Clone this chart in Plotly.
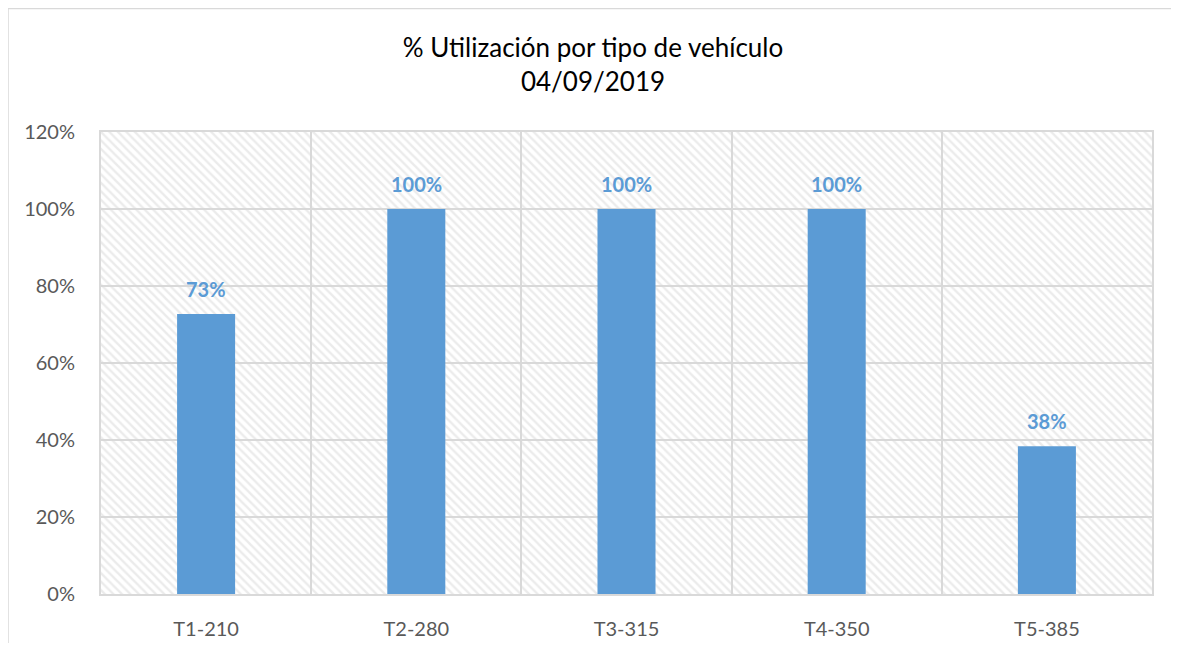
import plotly.graph_objects as go

categories = ["T1-210", "T2-280", "T3-315", "T4-350", "T5-385"]
utilization = [0.727, 1.0, 1.0, 1.0, 0.384]
y_max = 1.2
y_ticks = [0, 0.2, 0.4, 0.6, 0.8, 1.0, 1.2]

# page body has an 8px offset; figure occupies page pixels 8..1171 x 8..643
OFF = 8
W, H = 1179 - 2 * OFF, 651 - 2 * OFF
L, T = 101 - OFF, 132 - OFF
R = W - (1152 - OFF)
B = H - (594 - OFF)
pw, ph = W - L - R, H - T - B

FONT = "Lato, Open Sans, sans-serif"

fig = go.Figure()
# hatched plot-area background (transparent between stripes so gridlines show)
fig.add_trace(go.Bar(
    x=categories, y=[y_max] * len(categories), width=1,
    marker=dict(color="rgba(0,0,0,0)", line=dict(width=0),
                pattern=dict(shape="\\", fgcolor="#d8d8d8", bgcolor="rgba(0,0,0,0)",
                             size=6, solidity=0.4)),
    hoverinfo="skip", showlegend=False))
fig.add_trace(go.Bar(
    x=categories, y=utilization, width=0.276,
    marker=dict(color="#5B9BD5", line=dict(width=0)),
    showlegend=False))

for c, v in zip(categories, utilization):
    fig.add_annotation(x=c, y=v, text=f"<b>{round(v*100)}%</b>", showarrow=False,
                       yanchor="bottom", yshift=11,
                       font=dict(family=FONT, size=20, color="#5B9BD5"))

# outer chart border (top and left visible)
fig.add_shape(type="rect", xref="paper", yref="paper",
              x0=(0 - L) / pw, x1=(W + 20 - L) / pw,
              y0=-(B + 20) / ph, y1=(H - 0.5 - B) / ph,
              line=dict(color="#d9d9d9", width=1.5), layer="below")

fig.update_layout(
    width=W, height=H,
    margin=dict(l=L, r=R, t=T, b=B, autoexpand=False),
    paper_bgcolor="white", plot_bgcolor="white",
    barmode="overlay",
    title=dict(text="% Utilización por tipo de vehículo<br>04/09/2019",
               x=(593 - 101) / 1051, xanchor="center", xref="paper",
               y=(H - (57 - OFF)) / H, yanchor="middle",
               font=dict(family=FONT, size=26, color="#000000")),
    font=dict(family=FONT, size=20, color="#595959"),
)
fig.update_xaxes(type="category", range=[-0.5, 4.5], tickson="boundaries",
                 showgrid=True, gridcolor="#d9d9d9", gridwidth=2,
                 showline=True, linecolor="#d9d9d9", linewidth=2, mirror=True,
                 ticks="", ticklabelstandoff=16,
                 tickfont=dict(family=FONT, size=20, color="#595959"))
fig.update_yaxes(range=[0, y_max], tickvals=y_ticks, tickformat=".0%",
                 showgrid=True, gridcolor="#d9d9d9", gridwidth=2,
                 showline=True, linecolor="#d9d9d9", linewidth=2, mirror=True,
                 zeroline=False, ticks="", ticklabelstandoff=20,
                 tickfont=dict(family=FONT, size=20, color="#595959"))

fig.write_html("out.html")
